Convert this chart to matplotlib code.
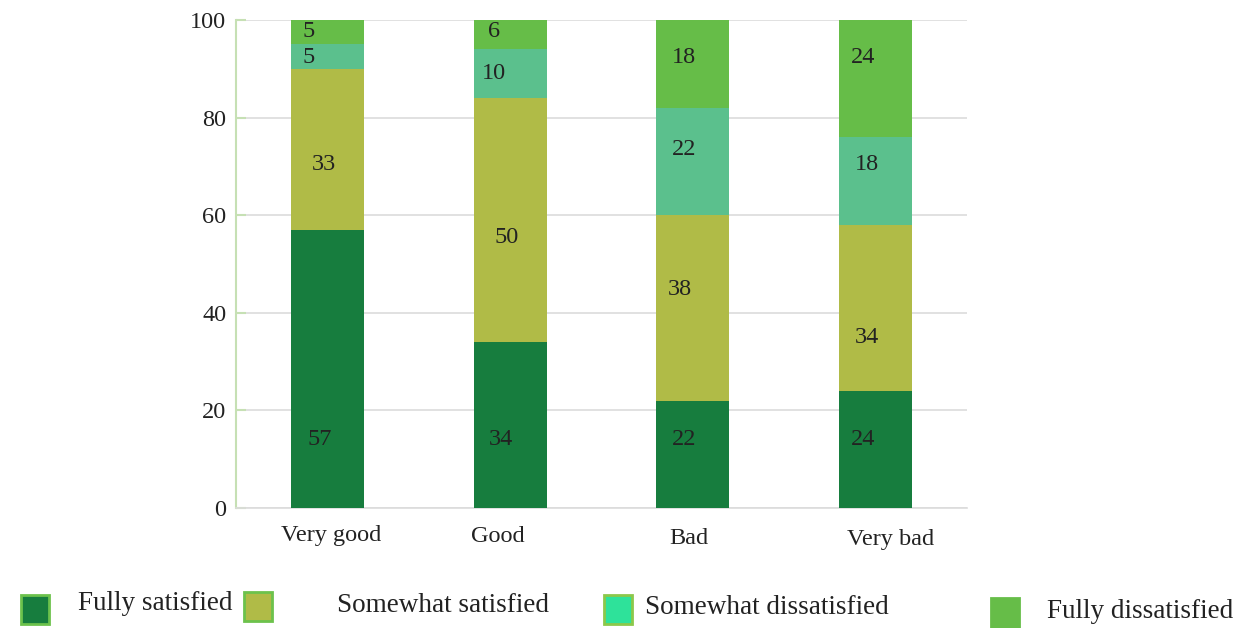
import matplotlib
matplotlib.use("Agg")
import matplotlib.pyplot as plt
from matplotlib.patches import Rectangle

categories = ["Very good", "Good", "Bad", "Very bad"]
series_names = ["Fully satisfied", "Somewhat satisfied",
                "Somewhat dissatisfied", "Fully dissatisfied"]
fully_satisfied = [57, 34, 22, 24]
somewhat_satisfied = [33, 50, 38, 34]
somewhat_dissatisfied = [5, 10, 22, 18]
fully_dissatisfied = [5, 6, 18, 24]
y_ticks = [0, 20, 40, 60, 80, 100]

series = [fully_satisfied, somewhat_satisfied, somewhat_dissatisfied, fully_dissatisfied]
bar_colors = ["#177d3e", "#b0bb47", "#5bc08d", "#66bd48"]
legend_colors = ["#177d3e", "#b0bb47", "#2ee29a", "#66bd48"]
legend_edges = ["#6cc24c", "#6cc24c", "#8cc84a", "#66bd48"]

# vertical anchor of each value label (in axis units), per series
label_y = [[14, 14, 14, 14],
           [70.3, 55.5, 44.7, 35],
           [92.4, 89, 73.4, 70.3],
           [97.7, 97.7, 92.4, 92.4]]
label_dx = [[-0.04, -0.05, -0.05, -0.07],
            [-0.02, -0.02, -0.07, -0.05],
            [-0.10, -0.09, -0.05, -0.05],
            [-0.10, -0.09, -0.05, -0.07]]
# category label placement (x offset in data units, y in pixels below axis)
cat_dx = [0.02, -0.07, -0.02, 0.08]
cat_dy = [28, 28, 31, 31]

FONT = "Liberation Serif"
plt.rcParams["font.family"] = [FONT, "DejaVu Serif"]
TXT = "#222222"

fig = plt.figure(figsize=(12.49, 6.28), dpi=100)
ax = fig.add_axes([236 / 1249, 1 - 508 / 628, 731 / 1249, 488 / 628])

x = list(range(len(categories)))
bottoms = [0] * len(categories)
for k, (vals, col) in enumerate(zip(series, bar_colors)):
    ax.bar(x, vals, width=0.4, bottom=bottoms, color=col, zorder=3)
    for i, v in enumerate(vals):
        ax.text(i + label_dx[k][i], label_y[k][i], str(v), ha="center", va="center",
                fontsize=17.5, color=TXT, zorder=4)
    bottoms = [b + v for b, v in zip(bottoms, vals)]

ax.set_xlim(-0.5, 3.5)
ax.set_ylim(0, 100)
ax.set_yticks(y_ticks)
ax.set_yticklabels([str(t) for t in y_ticks], fontsize=17.5, color=TXT)
ax.set_xticks(x)
ax.set_xticklabels([])
ax.tick_params(axis="x", length=0)
ax.tick_params(axis="y", direction="in", length=7, width=1.5, color="#c6e0b4", pad=7)
for i, name in enumerate(categories):
    ax.annotate(name, xy=(i + cat_dx[i], 0), xycoords=("data", "axes fraction"),
                xytext=(0, -cat_dy[i] * 72 / 100), textcoords="offset points",
                ha="center", va="center", fontsize=17.5, color=TXT)
ax.grid(axis="y", color="#dcdcdc", linewidth=1.2, zorder=0)
for s in ["top", "right"]:
    ax.spines[s].set_visible(False)
ax.spines["bottom"].set_color("#dcdcdc")
ax.spines["bottom"].set_linewidth(1.2)
ax.spines["left"].set_color("#c6e0b4")
ax.spines["left"].set_linewidth(1.5)

# legend row along the bottom
sq = [(21, 595), (244, 592), (604, 595), (991, 598)]
tx = [(78, 603), (337, 605), (645, 608), (1047, 612)]
for (sx, sy), (lx, ly), name, fc, ec in zip(sq, tx, series_names, legend_colors, legend_edges):
    fig.patches.append(Rectangle((sx / 1249, 1 - (sy + 29) / 628), 28 / 1249, 29 / 628,
                                 transform=fig.transFigure, facecolor=fc,
                                 edgecolor=ec, linewidth=2))
    fig.text(lx / 1249, 1 - ly / 628, name, ha="left", va="center",
             fontsize=19.5, color=TXT)

fig.savefig("out.png", dpi=100)
